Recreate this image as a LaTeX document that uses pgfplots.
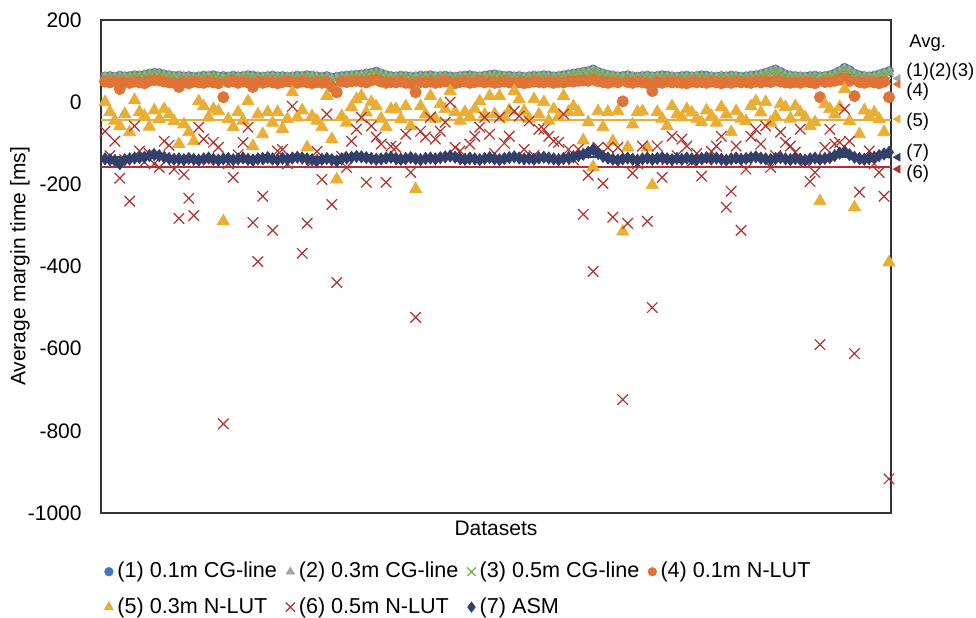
\documentclass[border=0pt]{standalone}
\usepackage{fontspec}
\setmainfont{Liberation Sans}
\usepackage{pgfplots}
\usepackage{pgfplotstable}
\pgfplotsset{compat=1.18}
\definecolor{c1}{HTML}{4472C4}
\definecolor{c2}{HTML}{A5A5A5}
\definecolor{c3}{HTML}{70AD47}
\definecolor{c4}{HTML}{E07436}
\definecolor{c5}{HTML}{E9AE33}
\definecolor{c6}{HTML}{B3302C}
\definecolor{c7}{HTML}{333F6B}
\pgfplotsset{lm/.style={only marks, legend image code/.code={\draw[mark repeat=2,mark phase=2,##1] plot coordinates {(0pt,0pt)(3.5pt,0pt)(9.5pt,0pt)};}}}
\pgfplotstableread{
a b c d e f g
63 62 61 50 0 -71 -138
64 62 62 48 -24 -130 -140
62 61 60 51 -45 -95 -142
65 63 62 32 -58 -185 -150
63 62 61 49 -29 -140 -140
64 62 62 47 -73 -241 -138
66 64 63 50 5 -58 -136
65 64 63 48 -24 -119 -135
67 65 64 46 -34 -146 -134
70 68 67 52 -60 -125 -130
72 70 69 54 -20 -150 -128
71 69 68 53 -41 -159 -130
68 66 65 50 -17 -95 -134
66 65 64 48 -30 -105 -137
64 63 62 47 -46 -163 -139
65 63 62 37 -102 -283 -138
63 62 61 49 -54 -176 -140
64 62 61 46 -73 -234 -137
62 61 60 50 -95 -276 -139
63 62 61 48 2 -61 -141
65 63 62 47 -10 -90 -138
64 63 62 50 -37 -140 -136
66 64 63 48 -17 -98 -139
63 62 61 46 -22 -110 -141
64 62 58 12 -290 -783 -138
62 61 60 49 -41 -150 -137
65 63 62 51 -61 -183 -140
63 62 61 47 -24 -128 -138
64 63 62 50 -45 -98 -136
66 64 63 48 2 -61 -139
65 63 62 37 -107 -293 -141
63 62 61 49 -30 -388 -138
62 61 60 47 -78 -229 -137
64 63 62 50 -24 -140 -135
65 63 62 48 -50 -312 -138
63 62 61 46 -24 -119 -140
64 62 61 49 -65 -115 -137
62 61 60 51 -41 -150 -139
63 62 61 48 24 -10 -136
65 63 62 47 -37 -135 -134
64 63 62 50 -20 -368 -136
66 64 63 48 -110 -295 -138
65 63 62 46 -34 -145 -140
63 62 61 49 -45 -120 -142
62 61 60 47 -61 -188 -139
64 62 61 49 15 -29 -137
60 58 52 37 -90 -249 -140
62 60 56 24 -188 -439 -143
64 62 61 50 -34 -132 -138
65 63 62 49 -50 -159 -136
66 64 63 51 -12 -95 -134
67 65 64 52 7 -66 -132
68 66 65 50 15 -37 -133
70 68 67 48 -25 -195 -135
72 70 69 53 0 -58 -137
75 72 71 55 -10 -85 -139
70 68 67 50 -40 -102 -138
66 65 64 47 -61 -195 -136
64 63 62 49 -17 -107 -134
63 62 61 48 -17 -110 -137
65 63 62 50 -41 -140 -139
64 63 62 47 -10 -78 -137
62 61 60 46 -58 -171 -135
63 62 58 24 -212 -524 -138
65 63 62 49 -10 -71 -140
64 63 62 48 -30 -85 -137
66 64 63 50 15 -37 -136
63 62 61 47 -40 -90 -138
64 63 62 49 -5 -71 -135
65 63 62 51 -17 -49 -133
63 62 61 48 27 0 -131
62 61 60 46 -24 -110 -134
64 63 62 49 -45 -119 -137
65 63 62 50 -24 -140 -139
66 64 63 47 -35 -102 -136
64 63 62 49 -17 -83 -138
63 62 61 51 2 -61 -140
65 63 62 48 -30 -37 -137
67 65 64 50 15 -78 -135
68 66 65 47 -29 -125 -138
66 65 64 49 15 -37 -140
64 63 62 50 -37 -100 -137
65 63 62 48 -20 -83 -135
63 62 61 47 27 -22 -133
64 63 62 49 7 -34 -136
62 61 60 46 -22 -115 -138
63 62 61 48 -40 -46 -137
65 63 62 50 7 -130 -139
64 63 62 49 -30 -66 -136
66 64 63 48 0 -66 -134
65 63 62 50 -45 -83 -136
63 62 61 47 -17 -95 -138
64 63 62 49 -35 -98 -140
66 64 63 48 15 -29 -137
68 66 65 51 -24 -115 -135
70 68 67 50 -10 -140 -133
72 70 69 52 -24 -115 -130
74 72 71 53 -93 -273 -127
76 74 73 52 -49 -178 -122
80 78 76 55 -158 -412 -115
74 72 71 51 -22 -110 -125
70 68 67 49 -61 -198 -132
67 65 64 47 -24 -110 -136
65 64 63 50 -95 -280 -139
63 62 61 48 -22 -110 -141
64 62 58 2 -315 -724 -138
66 64 63 49 -110 -295 -136
63 62 61 47 -54 -173 -139
62 61 60 50 -24 -150 -141
64 63 62 48 -22 -107 -138
65 63 62 46 -110 -290 -136
63 62 61 27 -202 -500 -139
64 63 62 49 -24 -107 -137
66 64 63 47 -40 -183 -135
65 63 62 50 -58 -140 -138
63 62 61 48 -10 -83 -140
62 61 60 49 -30 -130 -137
64 63 62 47 -37 -90 -139
65 63 62 46 -17 -107 -136
63 62 61 50 -25 -145 -138
64 63 62 48 -40 -125 -140
66 64 63 49 -49 -180 -137
65 63 62 47 -20 -140 -135
63 62 61 50 -34 -120 -138
62 61 60 48 -50 -107 -136
64 63 62 46 -12 -83 -139
63 62 61 49 -30 -256 -141
65 63 62 47 -73 -217 -138
64 63 62 50 -22 -107 -136
62 61 60 48 -40 -312 -139
63 62 61 49 -46 -163 -137
65 63 62 47 -10 -83 -135
66 64 63 50 2 -66 -133
68 66 65 48 -25 -102 -136
72 70 69 51 0 -58 -138
76 74 73 49 -50 -159 -140
80 78 76 53 -34 -130 -137
74 72 71 50 -5 -73 -135
68 66 65 48 -12 -98 -138
65 64 63 47 -40 -107 -140
64 63 62 49 -10 -122 -137
63 62 61 47 -25 -66 -139
62 61 60 50 -37 -145 -141
64 63 62 48 -58 -193 -138
65 63 62 46 -49 -171 -136
63 62 58 12 -241 -590 -139
64 63 62 49 -5 -110 -137
66 64 63 50 -17 -66 -135
70 68 67 52 -30 -102 -130
76 74 73 55 -12 -98 -124
84 82 80 58 32 -17 -120
78 76 75 52 -46 -95 -128
70 68 67 15 -256 -612 -134
66 64 63 49 -78 -219 -137
64 63 62 47 -20 -140 -139
63 62 61 50 -34 -119 -136
65 63 62 48 -25 -150 -134
68 66 65 46 -41 -171 -130
72 70 69 50 -73 -229 -126
76 74 72 12 -390 -917 -122
}\data
\newcommand{\px}[2]{({(#1-101)*0.5pt},{(513-#2)*0.5pt})}
\begin{document}
\fontsize{10.5}{12.6}\selectfont
\begin{tikzpicture}
\useasboundingbox (-50.5pt,-52pt) rectangle (437.5pt,256.5pt);
\begin{axis}[
  at={(0,0)}, anchor=south west,
  scale only axis, width=395pt, height=246.5pt,
  xmin=0.19, xmax=160.41, ymin=-1000, ymax=200,
  clip=false,
  xtick=\empty,
  ytick={-1000,-800,-600,-400,-200,0,200},
  yticklabels={-1000,-800,-600,-400,-200,0,200},
  major tick length=0pt,
  axis line style={draw=black!80, line width=0.75pt},
  yticklabel style={inner sep=0pt, xshift=-9.5pt},
  xlabel={Datasets},
  ylabel={Average margin time [ms]},
  xlabel style={at={(axis description cs:0.5,-0.0304)}, anchor=center},
  ylabel style={at={(axis description cs:-0.1025,0.5)}, anchor=center},
  legend columns=4,
  legend cell align=left,
  legend style={at={(0.0038,-0.0911)}, anchor=north west, draw=none, fill=none,
    inner sep=0pt, row sep=4.3pt, font=\fontsize{10.8}{13}\selectfont,
    /tikz/every even column/.style={column sep=0pt}},
]
% average lines
\addplot[c2, line width=1pt, forget plot] coordinates {(0.19,60) (160.41,60)};
\addplot[c4, line width=1pt, forget plot] coordinates {(0.19,44) (160.41,44)};
\addplot[c5, line width=1pt, forget plot] coordinates {(0.19,-44) (160.41,-44)};
\addplot[c7, line width=1pt, forget plot] coordinates {(0.19,-134) (160.41,-134)};
\addplot[c6, line width=1pt, forget plot] coordinates {(0.19,-159) (160.41,-159)};
% series
\addplot[lm, mark=*, mark size=2.2pt, mark options={draw=c1, fill=c1}, legend image post style={mark size=2.1pt}] table[x expr=\coordindex+1, y=a] {\data};
\addlegendentry{\makebox[82.2pt][l]{(1) 0.1m CG-line}}
\addplot[lm, mark=triangle*, mark size=2.6pt, mark options={draw=c2, fill=c2}, legend image post style={mark size=2.3pt}] table[x expr=\coordindex+1, y=b] {\data};
\addlegendentry{\makebox[82.2pt][l]{(2) 0.3m CG-line}}
\addplot[lm, mark=x, mark size=3pt, mark options={draw=c3, line width=0.6pt}, legend image post style={mark size=3pt}] table[x expr=\coordindex+1, y=c] {\data};
\addlegendentry{\makebox[82.2pt][l]{(3) 0.5m CG-line}}
\addplot[lm, mark=*, mark size=2.8pt, mark options={draw=c4, fill=c4}, legend image post style={mark size=2.1pt}] table[x expr=\coordindex+1, y=d] {\data};
\addlegendentry{\makebox[82.2pt][l]{(4) 0.1m N-LUT}}
\addplot[lm, mark=triangle*, mark size=3.5pt, mark options={draw=c5, fill=c5}, legend image post style={mark size=2.6pt}] table[x expr=\coordindex+1, y=e] {\data};
\addlegendentry{\makebox[82.2pt][l]{(5) 0.3m N-LUT}}
\addplot[lm, mark=x, mark size=3.7pt, mark options={draw=c6, line width=0.6pt}, legend image post style={mark size=3.2pt}] table[x expr=\coordindex+1, y=f] {\data};
\addlegendentry{\makebox[82.2pt][l]{(6) 0.5m N-LUT}}
\addplot[lm, mark=diamond*, mark size=3pt, mark options={draw=c7, fill=c7}, legend image post style={mark size=2.5pt}] table[x expr=\coordindex+1, y=g] {\data};
\addlegendentry{\makebox[82.2pt][l]{(7) ASM}}
% average markers
\addplot[only marks, forget plot, mark=triangle*, mark size=2.2pt, mark options={rotate=90, draw=c2, fill=c2}] coordinates {(161.8,58)};
\addplot[only marks, forget plot, mark=triangle*, mark size=2.2pt, mark options={rotate=90, draw=c4, fill=c4}] coordinates {(161.8,44)};
\addplot[only marks, forget plot, mark=triangle*, mark size=2.2pt, mark options={rotate=90, draw=c5, fill=c5}] coordinates {(161.8,-41)};
\addplot[only marks, forget plot, mark=triangle*, mark size=2.2pt, mark options={rotate=90, draw=c7, fill=c7}] coordinates {(161.8,-134)};
\addplot[only marks, forget plot, mark=triangle*, mark size=2.2pt, mark options={rotate=90, draw=c6, fill=c6}] coordinates {(161.8,-163)};
\end{axis}
\begin{scope}[every node/.style={anchor=west, inner sep=0pt, font=\fontsize{9.25}{11}\selectfont}]
\node at \px{909}{43} {Avg.};
\node at \px{906}{72} {(1)(2)(3)};
\node at \px{906}{92} {(4)};
\node at \px{906}{122} {(5)};
\node at \px{906}{153} {(7)};
\node at \px{906}{174} {(6)};
\end{scope}
\end{tikzpicture}
\end{document}
